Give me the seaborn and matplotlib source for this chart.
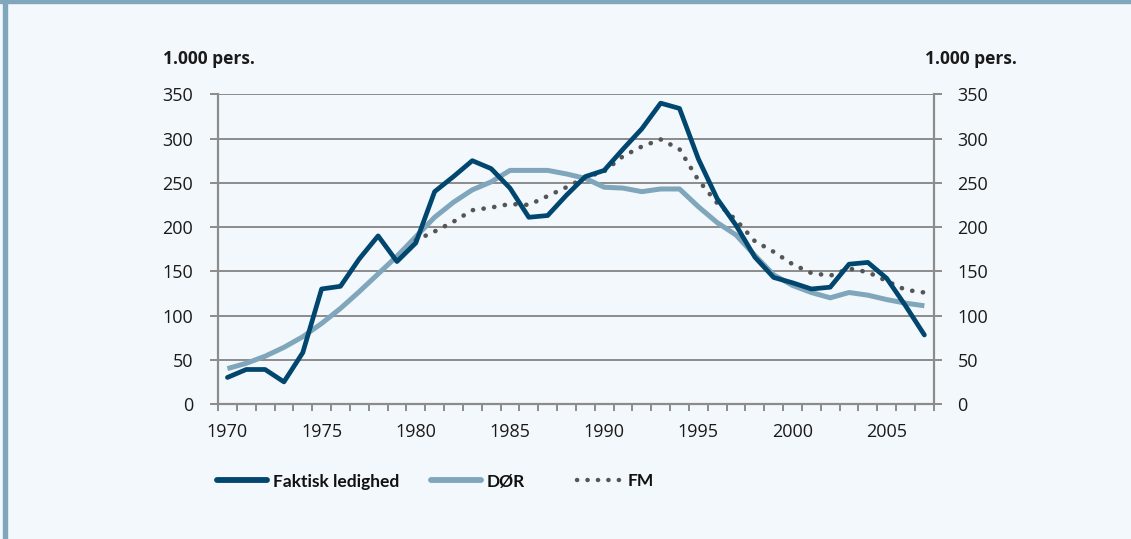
import matplotlib
matplotlib.use("Agg")
import matplotlib.pyplot as plt
from matplotlib.ticker import FixedLocator, NullFormatter
from matplotlib.lines import Line2D
import seaborn as sns
import pandas as pd
import numpy as np

years = list(range(1970, 2008))
faktisk = [30, 39, 39, 25, 58, 130, 133, 164, 190, 161, 182, 240, 257, 275, 266, 244,
           211, 213, 236, 257, 264, 288, 311, 340, 334, 277, 232, 202, 166, 143, 137,
           130, 132, 158, 160, 142, 111, 78]
dor = [40, 46, 54, 64, 76, 91, 108, 127, 147, 167, 189, 211, 228, 242, 251, 264,
       264, 264, 260, 255, 245, 244, 240, 243, 243, 223, 205, 191, 168, 146, 134,
       126, 120, 126, 123, 118, 114, 111]
fm_years = list(range(1980, 2008))
fm = [185, 195, 206, 219, 222, 226, 225, 235, 245, 256, 263, 280, 291, 299, 288,
      253, 227, 208, 184, 172, 158, 148, 145, 153, 149, 139, 129, 126]
yticks = [0, 50, 100, 150, 200, 250, 300, 350]
xtick_labels = [1970, 1975, 1980, 1985, 1990, 1995, 2000, 2005]
unit_label = "1.000 pers."
legend_labels = ["Faktisk ledighed", "DØR", "FM"]

BG = "#F3F8FC"
DARK = "#00466E"
LIGHT = "#80A6BC"
DOT = "#555555"
GRID = "#8C8C8C"

sns.set_theme(style="white")
plt.rcParams["font.family"] = ["Open Sans", "DejaVu Sans"]

fig = plt.figure(figsize=(11.31, 5.39), dpi=100, facecolor=BG)
ax = fig.add_axes([218 / 1131, 135 / 539, (933.8 - 218) / 1131, (444.7 - 135) / 539])
ax.set_facecolor(BG)

df1 = pd.DataFrame({"year": years, "value": faktisk})
df2 = pd.DataFrame({"year": years, "value": dor})
df3 = pd.DataFrame({"year": fm_years, "value": fm})

DOTSTYLE = (0, (0.05, 2.3))

sns.lineplot(data=df2, x="year", y="value", ax=ax, color=LIGHT, lw=3.6,
             solid_capstyle="butt", zorder=3)
sns.lineplot(data=df3, x="year", y="value", ax=ax, color=DOT, lw=3.3,
             linestyle=DOTSTYLE, dash_capstyle="round", zorder=4)
sns.lineplot(data=df1, x="year", y="value", ax=ax, color=DARK, lw=3.4,
             solid_capstyle="round", zorder=5)

ax.set_xlim(1969.5, 2007.5)
ax.set_ylim(0, 350)
ax.set_xlabel("")
ax.set_ylabel("")

ax.set_yticks(yticks)
ax.yaxis.grid(True, color=GRID, lw=1.4)
ax.set_axisbelow(True)
ax.tick_params(axis="y", which="major", length=6, width=1.4, color=GRID,
               labelsize=13, pad=12, labelcolor="#1a1a1a", left=True)

ax.set_xticks(xtick_labels)
ax.set_xticklabels([str(v) for v in xtick_labels])
ax.tick_params(axis="x", which="major", length=0, labelsize=13, pad=14,
               labelcolor="#1a1a1a")
ax.xaxis.set_minor_locator(FixedLocator(np.arange(1969.5, 2008, 1.0)))
ax.xaxis.set_minor_formatter(NullFormatter())
ax.tick_params(axis="x", which="minor", length=5, width=1.4, color=GRID,
               bottom=True, direction="out")

for side in ["left", "right", "bottom"]:
    ax.spines[side].set_visible(True)
    ax.spines[side].set_color(GRID)
    ax.spines[side].set_linewidth(1.6)
ax.spines["top"].set_visible(False)

ax2 = ax.twinx()
ax2.set_ylim(0, 350)
ax2.set_yticks(yticks)
ax2.tick_params(axis="y", length=6, width=1.4, color=GRID, labelsize=13, pad=11,
                labelcolor="#1a1a1a", right=True)
for side in ["left", "right", "bottom", "top"]:
    ax2.spines[side].set_visible(False)
ax2.grid(False)

fig.text(163 / 1131, 1 - 59 / 539, unit_label, fontsize=12.5, fontweight="bold",
         ha="left", va="center", color="#1a1a1a")
fig.text(1017 / 1131, 1 - 59 / 539, unit_label, fontsize=12.5, fontweight="bold",
         ha="right", va="center", color="#1a1a1a")

# legend entries placed individually
handles = [
    Line2D([], [], color=DARK, lw=4.2, solid_capstyle="round"),
    Line2D([], [], color=LIGHT, lw=4.2, solid_capstyle="round"),
    Line2D([], [], color=DOT, lw=3.2, linestyle=DOTSTYLE, dash_capstyle="round"),
]
starts = [217, 431, 577]
hlens = [2.9, 2.9, 2.6]
for h, lab, x0, hl in zip(handles, legend_labels, starts, hlens):
    lg = fig.legend([h], [lab], loc="center left",
                    bbox_to_anchor=(x0 / 1131, 1 - 481.5 / 539), frameon=False,
                    prop={"family": ["Lato", "Open Sans"], "weight": "bold", "size": 12.5},
                    handlelength=hl, handletextpad=0.3, borderpad=0, borderaxespad=0)
    for t in lg.get_texts():
        t.set_color("#111111")

fig.patches.append(plt.Rectangle((0, 1 - 3 / 539), 1, 3 / 539, transform=fig.transFigure,
                                 color=LIGHT, zorder=0))
fig.patches.append(plt.Rectangle((3 / 1131, 0), 4 / 1131, 1, transform=fig.transFigure,
                                 color=LIGHT, zorder=0))

fig.savefig("out.png", dpi=100, facecolor=BG)
